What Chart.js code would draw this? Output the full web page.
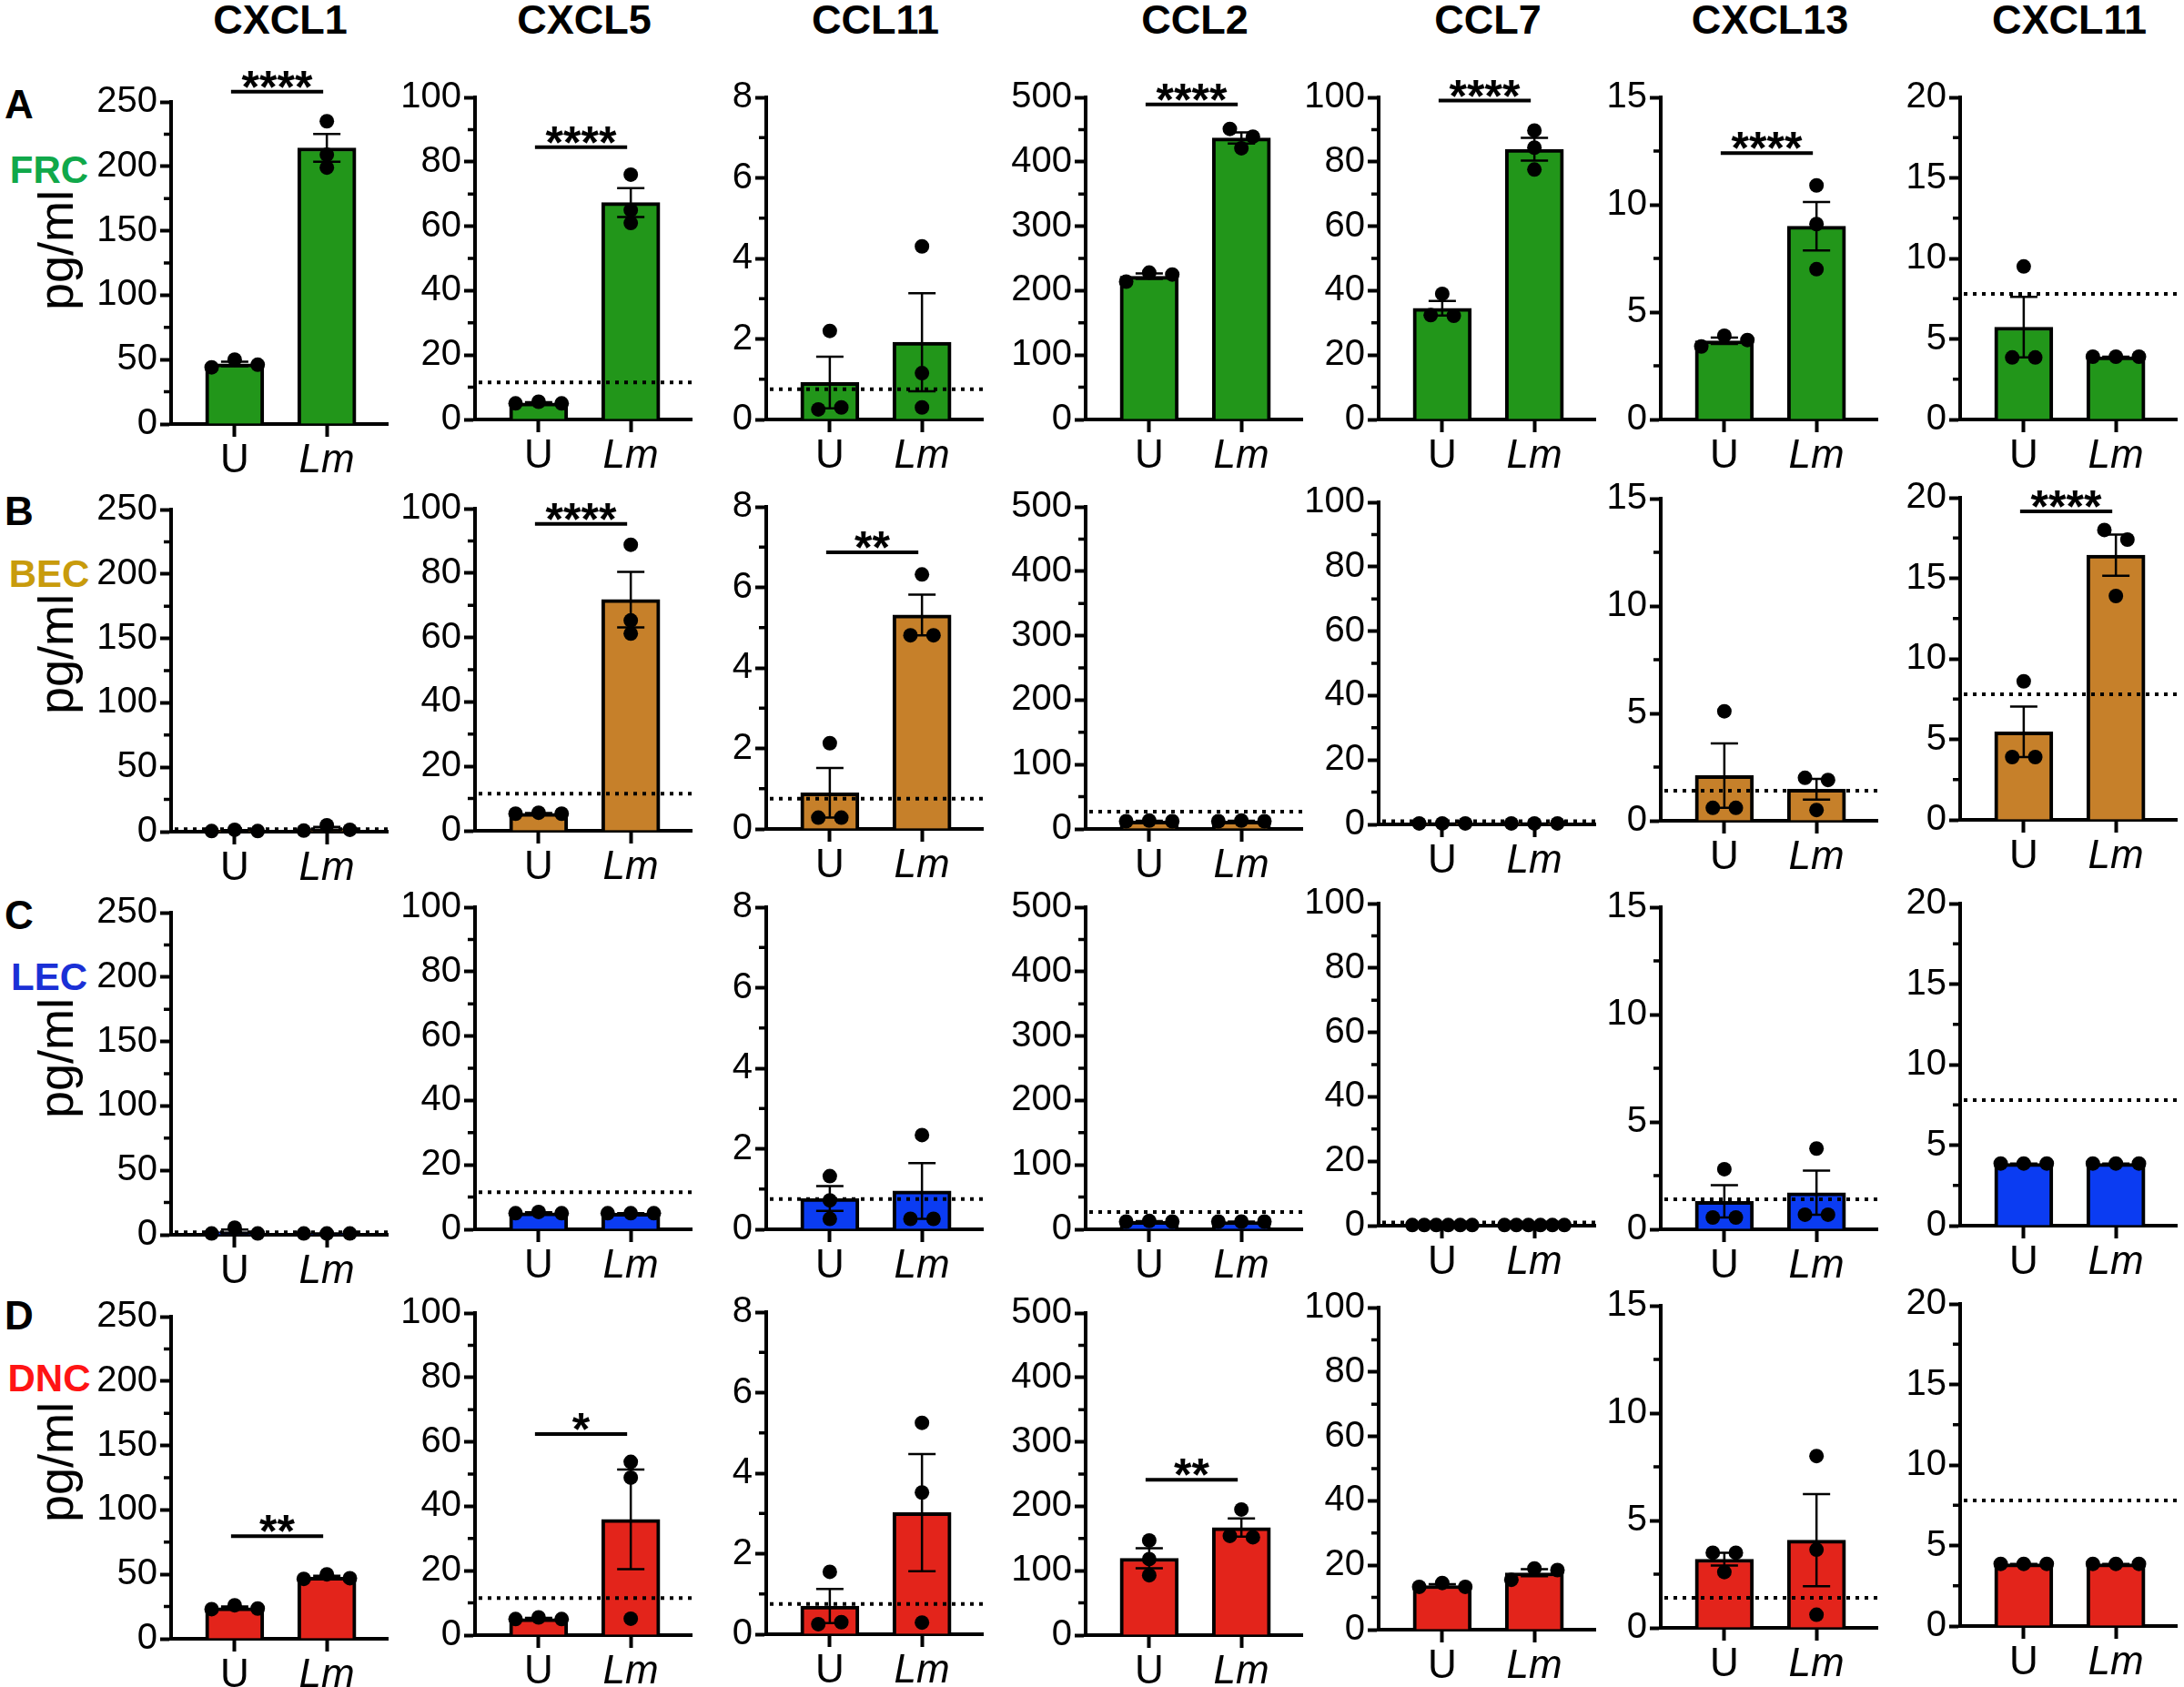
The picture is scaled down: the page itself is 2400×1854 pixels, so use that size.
<!DOCTYPE html>
<html>
<head>
<meta charset="utf-8">
<script src="https://cdn.jsdelivr.net/npm/chart.js@4.4.1/dist/chart.umd.min.js"></script>
<style>
  body { margin: 0; background: #fff; }
  #fig { position: relative; width: 2400px; height: 1854px; overflow: hidden; font-family: 'Liberation Sans', Arial, sans-serif; }
  .panel { position: absolute; }
  .txt { position: absolute; white-space: nowrap; line-height: 1; transform: translate(-50%, -50%); }
</style>
</head>
<body>
<div id="fig"></div>
<script>
// ---- data ----
const chemokines = ['CXCL1', 'CXCL5', 'CCL11', 'CCL2', 'CCL7', 'CXCL13', 'CXCL11'];
const cellTypes = ['FRC', 'BEC', 'LEC', 'DNC'];
const groups = ['U', 'Lm'];
const yMax = [250, 100, 8, 500, 100, 15, 20];
const yStep = [50, 20, 2, 100, 20, 5, 5];
const detectionLimit = [2, 11.5, 0.75, 27, 1, 1.4, 7.8];
const showLimit = [
  [0, 1, 1, 0, 0, 0, 1],
  [1, 1, 1, 1, 1, 1, 1],
  [1, 1, 1, 1, 1, 1, 1],
  [0, 1, 1, 0, 0, 1, 1]
];

// replicate values (pg/ml), one list per chemokine
const frcU  = [[44, 50, 46], [5, 5.5, 5], [0.25, 2.2, 0.3], [214, 228, 225], [32.4, 39, 32.2], [3.4, 3.9, 3.7], [3.85, 9.5, 3.85]];
const frcLm = [[199, 235, 209], [76, 65, 61], [4.3, 1.15, 0.3], [451, 421, 439], [89.7, 84.4, 77.6], [10.9, 9.1, 7.0], [3.9, 3.9, 3.9]];
const becU  = [[0.5, 1.5, 0.5], [5.3, 5.6, 5.3], [0.28, 2.13, 0.28], [12, 13, 12], [0.3, 0.3, 0.3], [0.6, 5.1, 0.6], [3.9, 8.6, 3.9]];
const becLm = [[0.8, 5, 1.5], [88.8, 65.3, 61.2], [4.81, 6.32, 4.81], [12, 13, 12], [0.3, 0.3, 0.3], [2.0, 0.5, 1.9], [18.0, 13.9, 17.4]];
const lecU  = [[1, 5.5, 1], [5, 5.4, 5], [1.32, 0.72, 0.26], [12, 13, 12], [0.2, 0.2, 0.2, 0.2, 0.2, 0.2], [0.55, 2.8, 0.55], [3.86, 3.86, 3.86]];
const lecLm = [[1, 1, 1], [5, 5, 5], [0.26, 2.34, 0.26], [12, 12, 12], [0.2, 0.2, 0.2, 0.2, 0.2, 0.2], [0.68, 3.76, 0.68], [3.86, 3.86, 3.86]];
const dncU  = [[23, 26, 23.5], [5, 5.5, 5], [0.25, 1.55, 0.3], [147, 118, 93], [13.3, 14.5, 13.3], [3.5, 2.6, 3.5], [3.86, 3.86, 3.86]];
const dncLm = [[46.5, 50, 47], [53.8, 48.9, 5.1], [5.25, 3.52, 0.29], [154, 195, 152], [15.5, 19, 18.5], [8.0, 3.64, 0.61], [3.86, 3.86, 3.86]];

// significance: stars and the level (axis units) of the bracket
const frcSig   = ['****', '****', '', '****', '****', '****', ''];
const frcSigAt = [258, 84.5, null, 489, 99, 12.4, null];
const becSig   = ['', '****', '**', '', '', '', '****'];
const becSigAt = [null, 95.3, 6.87, null, null, null, 19.15];
const lecSig   = ['', '', '', '', '', '', ''];
const lecSigAt = [null, null, null, null, null, null, null];
const dncSig   = ['**', '*', '', '**', '', '', ''];
const dncSigAt = [79.7, 62.4, null, 241, null, null, null];

const rowsU = [frcU, becU, lecU, dncU];
const rowsLm = [frcLm, becLm, lecLm, dncLm];
const rowsSig = [frcSig, becSig, lecSig, dncSig];
const rowsSigAt = [frcSigAt, becSigAt, lecSigAt, dncSigAt];

// ---- layout / style ----
const barColors = ['#22961a', '#c6802a', '#0b3cf2', '#e3241b'];
const labelColors = ['#10a84a', '#c89b0c', '#1a30d6', '#ff1414'];
const axisX = [188, 522, 842, 1193, 1515, 1825, 2154];
const rowTop = [
  [112, 107, 107, 107, 107, 107, 107],
  [560, 559, 557, 557, 552, 548, 547],
  [1003, 997, 997, 997, 993, 997, 993],
  [1447, 1443, 1442, 1443, 1437, 1435, 1433]
];
const plotH = 354, plotW = 238, padTop = 70, yW = 110, xH = 70, padR = 8;
const FONT = "'Liberation Sans', Arial, sans-serif";

const fig = document.getElementById('fig');

function addText(text, x, y, font, color, rotate) {
  const d = document.createElement('div');
  d.className = 'txt';
  d.textContent = text;
  d.style.left = x + 'px';
  d.style.top = y + 'px';
  d.style.font = font;
  d.style.color = color || '#000';
  if (rotate) d.style.transform = 'translate(-50%, -50%) rotate(-90deg)';
  fig.appendChild(d);
}

const mean = a => a.reduce((s, v) => s + v, 0) / a.length;
const sem = a => {
  const m = mean(a);
  const sd = Math.sqrt(a.reduce((s, v) => s + (v - m) * (v - m), 0) / (a.length - 1));
  return sd / Math.sqrt(a.length);
};

// spread dots that would overlap (GraphPad-like scatter)
function spread(vals, range, xc) {
  const idx = vals.map((v, i) => i).sort((a, b) => vals[a] - vals[b]);
  const clusters = [];
  idx.forEach(i => {
    const last = clusters[clusters.length - 1];
    if (last && vals[i] - vals[last[last.length - 1]] < 0.035 * range) last.push(i);
    else clusters.push([i]);
  });
  const pts = [];
  clusters.forEach(cl => {
    cl.sort((a, b) => a - b);
    const n = cl.length;
    const step = n <= 3 ? 0.25 : 0.65 / (n - 1);
    cl.forEach((i, k) => pts.push({ x: xc + (k - (n - 1) / 2) * step, y: vals[i] }));
  });
  return pts;
}

function makeExtras(info) {
  return {
    id: 'extras',
    afterDatasetDraw(chart, args) {
      if (args.meta.type !== 'bar') return;
      const { ctx, scales: { x, y } } = chart;
      ctx.save();
      if (info.lod != null) {
        const py = y.getPixelForValue(info.lod);
        ctx.setLineDash([4, 6]);
        ctx.lineWidth = 4;
        ctx.strokeStyle = '#000';
        ctx.beginPath();
        ctx.moveTo(chart.chartArea.left + 4, py);
        ctx.lineTo(chart.chartArea.right, py);
        ctx.stroke();
        ctx.setLineDash([]);
      }
      ctx.lineWidth = 2.5;
      ctx.strokeStyle = '#000';
      info.err.forEach((e, i) => {
        const px = x.getPixelForValue(i);
        const hi = y.getPixelForValue(e.m + e.s);
        const lo = y.getPixelForValue(Math.max(0, e.m - e.s));
        ctx.beginPath();
        ctx.moveTo(px, hi); ctx.lineTo(px, lo);
        ctx.moveTo(px - 15, hi); ctx.lineTo(px + 15, hi);
        ctx.moveTo(px - 15, lo); ctx.lineTo(px + 15, lo);
        ctx.stroke();
      });
      ctx.restore();
    },
    afterDraw(chart) {
      const { ctx, scales: { x, y }, chartArea } = chart;
      ctx.save();
      ctx.strokeStyle = '#000';
      ctx.lineWidth = 3.5;
      ctx.beginPath();
      for (let v = info.step / 2; v < info.max; v += info.step) {
        const py = y.getPixelForValue(v);
        ctx.moveTo(chartArea.left, py);
        ctx.lineTo(chartArea.left - 8, py);
      }
      ctx.stroke();
      if (info.sig) {
        const py = y.getPixelForValue(info.sigAt);
        const x0 = x.getPixelForValue(0), x1 = x.getPixelForValue(1);
        ctx.lineWidth = 4;
        ctx.beginPath();
        ctx.moveTo(x0 - 4, py); ctx.lineTo(x1 - 4, py);
        ctx.stroke();
        ctx.fillStyle = '#000';
        ctx.font = 'bold 50px ' + FONT;
        ctx.textAlign = 'center';
        ctx.textBaseline = 'alphabetic';
        ctx.fillText(info.sig, (x0 + x1) / 2 - 4, py + 12);
      }
      ctx.restore();
    }
  };
}

// ---- text ----
chemokines.forEach((name, c) => addText(name, axisX[c] + 120, 22, 'bold 45px ' + FONT));
const letterY = [115, 562, 1006, 1446];
const cellY = [187, 631, 1074, 1515];
const pgY = [275, 719, 1163, 1607];
cellTypes.forEach((cell, r) => {
  addText('ABCD'[r], 21, letterY[r], 'bold 44px ' + FONT);
  addText(cell, 54, cellY[r], 'bold 42px ' + FONT, labelColors[r]);
  addText('pg/ml', 61, pgY[r], '54px ' + FONT, '#000', true);
});

// ---- charts ----
cellTypes.forEach((cell, r) => {
  chemokines.forEach((chem, c) => {
    const u = rowsU[r][c], lm = rowsLm[r][c];
    const div = document.createElement('div');
    div.className = 'panel';
    div.style.left = (axisX[c] - yW) + 'px';
    div.style.top = (rowTop[r][c] - padTop) + 'px';
    div.style.width = (yW + plotW + padR) + 'px';
    div.style.height = (padTop + plotH + xH) + 'px';
    const cv = document.createElement('canvas');
    div.appendChild(cv);
    fig.appendChild(div);

    const info = {
      max: yMax[c], step: yStep[c],
      lod: showLimit[r][c] ? detectionLimit[c] : null,
      err: [{ m: mean(u), s: sem(u) }, { m: mean(lm), s: sem(lm) }],
      sig: rowsSig[r][c], sigAt: rowsSigAt[r][c]
    };
    const dots = spread(u, yMax[c], 0).concat(spread(lm, yMax[c], 1));

    new Chart(cv, {
      type: 'bar',
      data: {
        datasets: [{
          type: 'bar',
          data: [{ x: 0, y: mean(u) }, { x: 1, y: mean(lm) }],
          backgroundColor: barColors[r],
          borderColor: '#000',
          borderWidth: 4,
          barThickness: 64,
          order: 2
        }, {
          type: 'scatter',
          data: dots,
          pointRadius: 8,
          pointBackgroundColor: '#000',
          pointBorderWidth: 0,
          clip: false,
          order: 1
        }]
      },
      options: {
        responsive: true,
        maintainAspectRatio: false,
        animation: false,
        events: [],
        layout: { padding: { top: padTop, right: padR, left: 0, bottom: 0 } },
        plugins: { legend: { display: false }, tooltip: { enabled: false } },
        scales: {
          x: {
            type: 'linear', min: -0.69, max: 1.66, offset: false,
            afterBuildTicks: s => { s.ticks = [{ value: 0 }, { value: 1 }]; },
            afterFit: s => { s.height = xH; },
            grid: { drawOnChartArea: false, offset: false, tickLength: 14, tickWidth: 4, tickColor: '#000' },
            border: { display: true, color: '#000', width: 4 },
            ticks: {
              color: '#000', padding: 0, autoSkip: false, maxRotation: 0,
              callback: v => groups[v],
              font: ctx => ({ family: FONT, size: 44, style: ctx.tick && ctx.tick.value === 1 ? 'italic' : 'normal' })
            }
          },
          y: {
            min: 0, max: yMax[c],
            afterFit: s => { s.width = yW; },
            grid: { drawOnChartArea: false, tickLength: 12, tickWidth: 4, tickColor: '#000' },
            border: { display: true, color: '#000', width: 4 },
            ticks: { stepSize: yStep[c], color: '#000', padding: 3, font: { family: FONT, size: 40 } }
          }
        }
      },
      plugins: [makeExtras(info)]
    });
  });
});
</script>
</body>
</html>
